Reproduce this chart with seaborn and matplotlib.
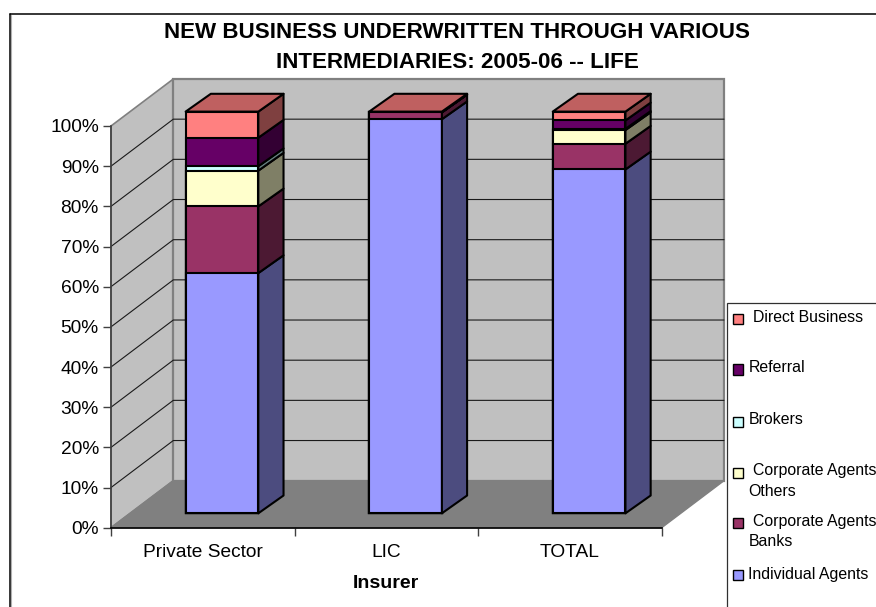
import matplotlib
matplotlib.use("Agg")
import matplotlib.pyplot as plt
from matplotlib.patches import Polygon, Rectangle
from matplotlib.lines import Line2D
import numpy as np
import pandas as pd
import seaborn as sns

# Share of new business (%) by channel
insurers = ["Private Sector", "LIC", "TOTAL"]
individual_agents = [59.8, 98.1, 85.6]
agents_banks = [16.6, 1.7, 6.4]
agents_others = [8.9, 0.05, 3.4]
brokers = [1.1, 0.0, 0.3]
referral = [7.1, 0.05, 2.1]
direct_business = [6.5, 0.1, 2.2]

series = [individual_agents, agents_banks, agents_others, brokers, referral, direct_business]
front_colors = ["#9999FF", "#993366", "#FFFFCC", "#CCFFFF", "#660066", "#FF8080"]
side_colors = ["#4C4C7F", "#4C1933", "#7F7F66", "#667F7F", "#330033", "#7F4040"]
top_color = "#BF6060"
percent_ticks = list(range(0, 101, 10))
title_lines = ["NEW BUSINESS UNDERWRITTEN THROUGH VARIOUS", "INTERMEDIARIES: 2005-06 -- LIFE"]

# Legend rows: label lines with their indent, swatch top edge, text centres (pixels from top)
legend_rows = [
    ("#FF8080", 314.0, [("Direct Business", 752.7, 317.5)]),
    ("#660066", 364.5, [("Referral", 748.5, 367.5)]),
    ("#CCFFFF", 417.0, [("Brokers", 748.5, 419.5)]),
    ("#FFFFCC", 467.5, [("Corporate Agents", 752.7, 471.0), ("Others", 748.5, 491.5)]),
    ("#993366", 518.0, [("Corporate Agents", 752.7, 521.5), ("Banks", 748.5, 541.5)]),
    ("#9999FF", 570.0, [("Individual Agents", 748.5, 574.0)]),
]

W, H = 876, 607
sns.set_theme(style="white")
plt.rcParams["font.family"] = ["Liberation Sans", "DejaVu Sans"]

fig = plt.figure(figsize=(W / 100, H / 100), dpi=100, facecolor="white")
ax = fig.add_axes([111 / W, 1 - 527.7 / H, 550.7 / W, 401.7 / H])
ax.patch.set_alpha(0)

# Oblique projection of the chart box and of the bars, in axis units
cat_px = 550.7 / 3
val_px = 401.7 / 100
box_dx, box_dy = 62.3 / cat_px, 47.0 / val_px
bar_dx, bar_dy = 19.2 / cat_px, 14.4 / val_px
depth_dx, depth_dy = 25.2 / cat_px, 17.8 / val_px
bar_width = 0.396
edge_width = 1.5

# Stacked fronts: cumulative totals overlaid from the tallest down
cumulative = np.cumsum(np.array(series, dtype=float), axis=0)
for k in range(len(series) - 1, -1, -1):
    frame = pd.DataFrame({"insurer": insurers, "value": cumulative[k]})
    sns.barplot(data=frame, x="insurer", y="value", order=insurers, color=front_colors[k],
                saturation=1, width=bar_width, edgecolor="black", linewidth=edge_width,
                zorder=3, clip_on=False, ax=ax)
for bar in ax.patches:
    bar.set_x(bar.get_x() + bar_dx)
    bar.set_y(bar.get_y() + bar_dy)
    bar.set_clip_on(False)

x0, x1 = -0.5, 2.5
ax.set_xlim(x0, x1)
ax.set_ylim(0, 100)

# Walls and floor
wall_edge = "#808080"
ax.add_patch(Polygon([(x0, 0), (x0, 100), (x0 + box_dx, 100 + box_dy), (x0 + box_dx, box_dy)],
                     facecolor="#C0C0C0", edgecolor=wall_edge, linewidth=1.2, zorder=0, clip_on=False))
ax.add_patch(Rectangle((x0 + box_dx, box_dy), x1 - x0, 100, facecolor="#C0C0C0",
                       edgecolor=wall_edge, linewidth=1.6, zorder=0, clip_on=False))
ax.add_patch(Polygon([(x0, 0), (x1, 0), (x1 + box_dx, box_dy), (x0 + box_dx, box_dy)],
                     facecolor="#808080", edgecolor=wall_edge, linewidth=1.0, zorder=0.5, clip_on=False))

# Gridlines run along the side wall and across the back wall
for v in percent_ticks[1:-1]:
    ax.add_line(Line2D([x0, x0 + box_dx, x1 + box_dx], [v, v + box_dy, v + box_dy],
                       color="#1a1a1a", linewidth=0.8, zorder=1, clip_on=False))

# Side and top faces of each column
for i in range(len(insurers)):
    left = i - bar_width / 2 + bar_dx
    right = left + bar_width
    lower = 0.0
    for k, values in enumerate(series):
        upper = cumulative[k][i]
        ax.add_patch(Polygon([(right, lower + bar_dy), (right + depth_dx, lower + bar_dy + depth_dy),
                              (right + depth_dx, upper + bar_dy + depth_dy), (right, upper + bar_dy)],
                             facecolor=side_colors[k], edgecolor="black", linewidth=edge_width,
                             joinstyle="round", zorder=3, clip_on=False))
        lower = upper
    top = cumulative[-1][i] + bar_dy
    ax.add_patch(Polygon([(left, top), (right, top), (right + depth_dx, top + depth_dy),
                          (left + depth_dx, top + depth_dy)],
                         facecolor=top_color, edgecolor="black", linewidth=edge_width,
                         joinstyle="round", zorder=3, clip_on=False))

# Axes
for name in ("top", "right"):
    ax.spines[name].set_visible(False)
ax.spines["left"].set_color("#404040")
ax.spines["left"].set_linewidth(1.2)
ax.spines["bottom"].set_color("black")
ax.spines["bottom"].set_linewidth(1.2)
ax.set_yticks(percent_ticks)
ax.set_yticklabels([f"{v}%" for v in percent_ticks])
ax.set_xticks([0, 1, 2])
ax.set_xticklabels(insurers)
ax.set_xticks([-0.5, 0.5, 1.5, 2.5], minor=True)
ax.tick_params(axis="y", which="major", left=True, length=5.8, width=1.0, color="#404040",
               labelsize=13.8, labelcolor="black", pad=3)
ax.tick_params(axis="x", which="major", bottom=False, length=0, labelsize=13.8, labelcolor="black", pad=12)
ax.tick_params(axis="x", which="minor", bottom=True, length=5.8, width=1.0, color="#404040")
ax.set_xlabel("")
ax.set_ylabel("")


def from_top(y):
    return 1 - y / H


fig.text(386 / W, from_top(583), "Insurer", ha="center", va="center",
         fontsize=14, fontweight="bold", color="black")
fig.text(457 / W, from_top(33), title_lines[0], ha="center", va="center",
         fontsize=16.1, fontweight="bold", color="black")
fig.text(457 / W, from_top(62.5), title_lines[1], ha="center", va="center",
         fontsize=16.1, fontweight="bold", color="black")

# Legend panel, running off the right and bottom edges of the chart area
fig.add_artist(Rectangle((727 / W, -0.05), 200 / W, from_top(303) + 0.05, transform=fig.transFigure,
                         facecolor="white", edgecolor="#303030", linewidth=0.9))
for color, swatch_top, lines in legend_rows:
    fig.add_artist(Rectangle((733 / W, from_top(swatch_top + 10.3)), 10.2 / W, 10.3 / H,
                             transform=fig.transFigure, facecolor=color, edgecolor="black", linewidth=1.0))
    for label, tx, ty in lines:
        fig.text(tx / W, from_top(ty), label, ha="left", va="center", fontsize=11.45, color="black")

# Chart area outline: only its top and left edges fall inside the frame
frame_x, frame_y = 9.8, 13.5
for offset, shade, lw in ((1.3, "#b0b0b0", 0.8), (0.0, "black", 1.1)):
    fig.add_artist(Line2D([(frame_x + offset) / W, (frame_x + offset) / W],
                          [from_top(frame_y + offset), 0],
                          transform=fig.transFigure, color=shade, linewidth=lw))
fig.add_artist(Line2D([frame_x / W, 1], [from_top(frame_y)] * 2,
                      transform=fig.transFigure, color="black", linewidth=1.1))

fig.savefig("out.png", dpi=100)
